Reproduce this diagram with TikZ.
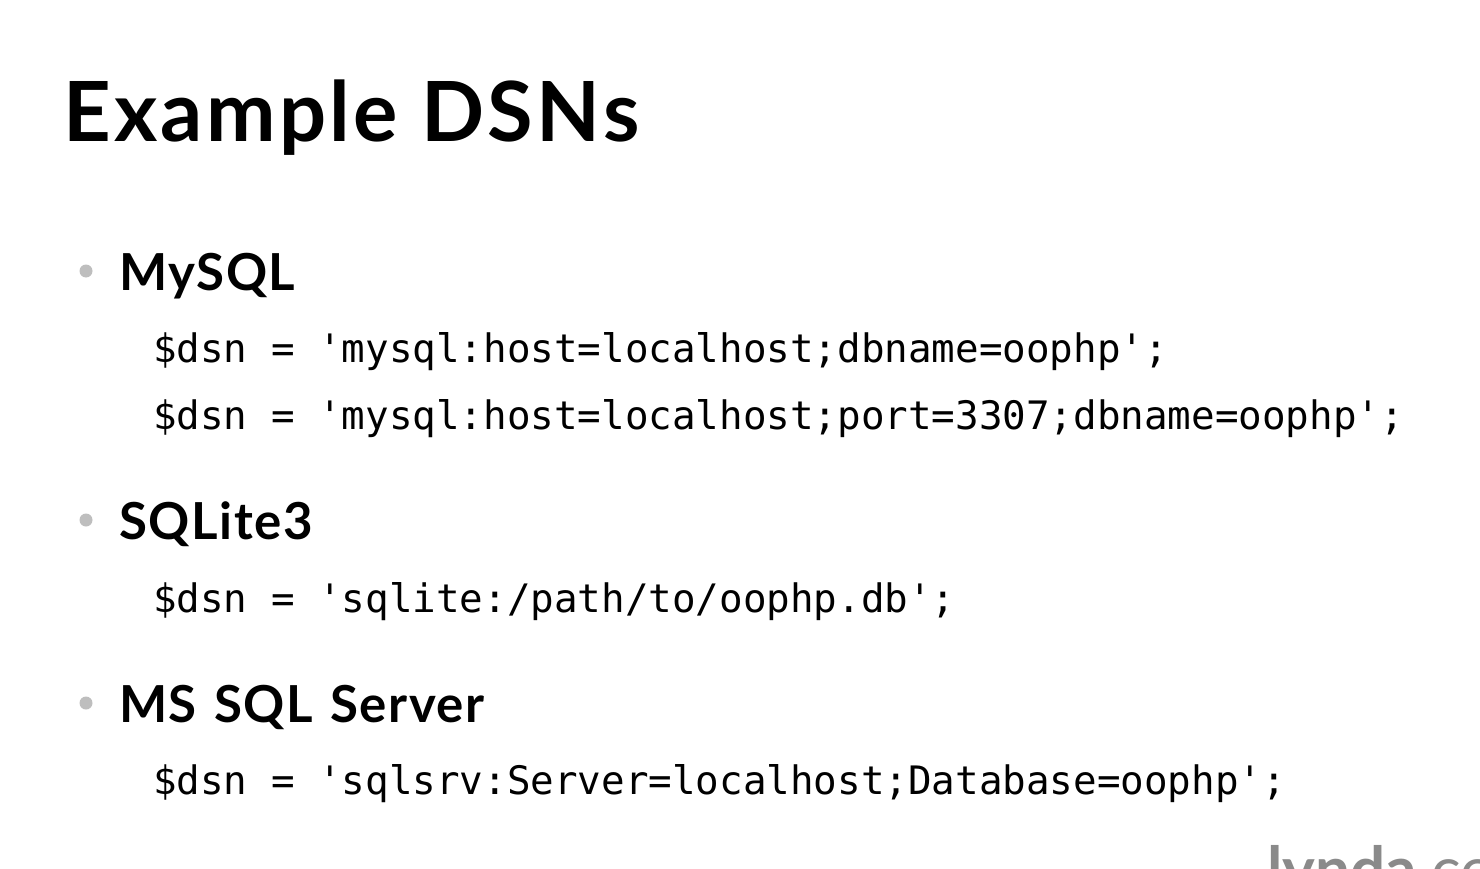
\documentclass[tikz,border=0pt]{standalone}
\usepackage{fontspec}
\setmainfont{Lato}
\newfontfamily\titlefont[LetterSpace=4]{Lato}
\newfontfamily\headfont[LetterSpace=3,WordSpace=1.25]{Lato}
\newfontfamily\codefont{DejaVu Sans Mono}
\definecolor{bulletgrey}{HTML}{BEBEBE}
\definecolor{logogrey}{HTML}{8A8A8A}
\begin{document}
\begin{tikzpicture}[x=1pt,y=-1pt,
  title/.style={anchor=base west,inner sep=0pt,font=\titlefont\fontsize{83}{90}\selectfont\bfseries},
  head/.style={anchor=base west,inner sep=0pt,font=\headfont\fontsize{51}{60}\selectfont\bfseries},
  code/.style={anchor=base west,inner sep=0pt,font=\codefont\fontsize{39.2}{46}\selectfont},
  bul/.style={circle,fill=bulletgrey,inner sep=0pt,minimum size=13pt}]
\fill[white] (0,0) rectangle (1480,869);
\useasboundingbox (0,0) rectangle (1480,869);
\node[title] (t) at (63,142) {Example DSNs};
\node[bul] (b1) at (86,271) {};
\node[head] (h1) at (119,290) {MySQL};
\node[code] (c1) at (153,362) {\$dsn = 'mysql:host=localhost;dbname=oophp';};
\node[code] (c2) at (153,429) {\$dsn = 'mysql:host=localhost;port=3307;dbname=oophp';};
\node[bul] (b2) at (86,520) {};
\node[head] (h2) at (119,539) {SQLite3};
\node[code] (c3) at (153,612) {\$dsn = 'sqlite:/path/to/oophp.db';};
\node[bul] (b3) at (86,703) {};
\node[head] (h3) at (119,722) {MS SQL Server};
\node[code] (c4) at (153,794) {\$dsn = 'sqlsrv:Server=localhost;Database=oophp';};
\begin{scope}
\clip (0,0) rectangle (1480,869);
\node[anchor=base west,inner sep=0pt,text=logogrey,font=\fontsize{62}{70}\selectfont] (logo) at (1267,891) {\textbf{lynda}.com};
\end{scope}
\end{tikzpicture}
\end{document}
